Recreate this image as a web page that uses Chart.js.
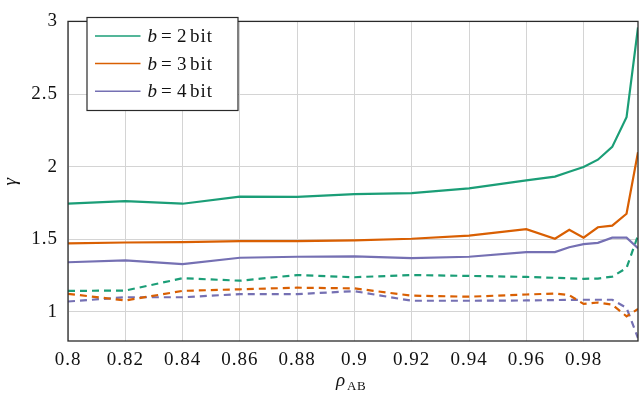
<!DOCTYPE html>
<html>
<head>
<meta charset="utf-8">
<script src="https://cdn.jsdelivr.net/npm/chart.js@4.4.1/dist/chart.umd.min.js"></script>
<style>
  html, body { margin: 0; padding: 0; background: #fff; }
  #wrap { width: 640px; height: 394px; }
</style>
</head>
<body>
<div id="wrap"><canvas id="c"></canvas></div>
<script>
// correlation values on the x axis
const rho = [0.8, 0.82, 0.84, 0.86, 0.88, 0.9, 0.92, 0.94, 0.96, 0.97, 0.975, 0.98, 0.985, 0.99, 0.995, 0.999];

// solid curves (b = 2, 3, 4 bit)
const gamma2 = [1.746, 1.763, 1.745, 1.794, 1.792, 1.811, 1.818, 1.851, 1.906, 1.932, 1.965, 1.998, 2.048, 2.136, 2.34, 2.958];
const gamma3 = [1.472, 1.478, 1.480, 1.487, 1.487, 1.493, 1.504, 1.526, 1.570, 1.504, 1.566, 1.511, 1.583, 1.594, 1.676, 2.099];
const gamma4 = [1.342, 1.355, 1.329, 1.373, 1.380, 1.382, 1.371, 1.380, 1.412, 1.412, 1.445, 1.467, 1.476, 1.511, 1.511, 1.439];

// dashed curves
const dash2 = [1.145, 1.147, 1.232, 1.215, 1.254, 1.239, 1.254, 1.248, 1.241, 1.235, 1.232, 1.228, 1.230, 1.243, 1.303, 1.526];
const dash3 = [1.125, 1.079, 1.145, 1.156, 1.167, 1.162, 1.112, 1.105, 1.120, 1.127, 1.116, 1.055, 1.065, 1.050, 0.970, 1.020];
const dash4 = [1.072, 1.101, 1.101, 1.123, 1.123, 1.143, 1.077, 1.077, 1.079, 1.082, 1.083, 1.084, 1.084, 1.084, 1.028, 0.820];

const xTicks = [0.8, 0.82, 0.84, 0.86, 0.88, 0.9, 0.92, 0.94, 0.96, 0.98];
const yTicks = [1, 1.5, 2, 2.5, 3];
const bits = ['2', '3', '4'];

const GREEN = '#1b9e77', ORANGE = '#d95f02', PURPLE = '#7570b3';
const SERIF = "'Liberation Serif', 'DejaVu Serif', serif";

const pts = ys => rho.map((x, i) => ({ x: x, y: ys[i] }));

function line(label, ys, color, dashed) {
  return {
    label: label,
    data: pts(ys),
    borderColor: color,
    backgroundColor: color,
    borderWidth: 2.2,
    borderDash: dashed ? [7, 5] : [],
    pointRadius: 0,
    tension: 0,
    fill: false,
    isDashed: dashed
  };
}

// frame around the plot, legend box and the x-axis label
const decor = {
  id: 'decor',
  beforeDraw(chart) {
    chart.ctx.letterSpacing = '1px';
  },
  afterDraw(chart) {
    const ctx = chart.ctx;
    const a = chart.chartArea;
    ctx.save();
    ctx.strokeStyle = '#2a2a2a';
    ctx.lineWidth = 1.3;
    ctx.setLineDash([]);
    ctx.strokeRect(a.left, a.top, a.right - a.left, a.bottom - a.top);

    // legend
    const bx = 87, by = 17.5, bw = 151, bh = 93;
    ctx.fillStyle = '#fff';
    ctx.fillRect(bx, by, bw, bh);
    ctx.strokeStyle = '#2a2a2a';
    ctx.lineWidth = 1.2;
    ctx.strokeRect(bx, by, bw, bh);
    const solid = chart.data.datasets.filter(d => !d.isDashed);
    ctx.fillStyle = '#111';
    ctx.textBaseline = 'alphabetic';
    ctx.textAlign = 'left';
    solid.forEach((d, i) => {
      const y = 36 + i * 27.6;
      ctx.strokeStyle = d.borderColor;
      ctx.lineWidth = 1.5;
      ctx.beginPath();
      ctx.moveTo(95, y);
      ctx.lineTo(140.5, y);
      ctx.stroke();
      ctx.letterSpacing = '0px';
      ctx.font = 'italic 19px ' + SERIF;
      ctx.fillText('b', 147.5, y + 6);
      ctx.font = '19px ' + SERIF;
      ctx.fillText('=', 161, y + 6);
      ctx.fillText(bits[i], 177, y + 6);
      ctx.letterSpacing = '1px';
      ctx.fillText('bit', 190, y + 6);
    });

    // x-axis title: rho_AB
    ctx.letterSpacing = '0px';
    ctx.font = 'italic 19px ' + SERIF;
    ctx.fillText('\u03c1', 336, 386);
    ctx.letterSpacing = '0.5px';
    ctx.font = '13px ' + SERIF;
    ctx.fillText('AB', 347, 390);
    ctx.restore();
  }
};

new Chart(document.getElementById('c'), {
  type: 'line',
  data: {
    datasets: [
      line('b = 2 bit', gamma2, GREEN, false),
      line('b = 3 bit', gamma3, ORANGE, false),
      line('b = 4 bit', gamma4, PURPLE, false),
      line('b = 2 bit (dashed)', dash2, GREEN, true),
      line('b = 3 bit (dashed)', dash3, ORANGE, true),
      line('b = 4 bit (dashed)', dash4, PURPLE, true)
    ]
  },
  options: {
    responsive: true,
    maintainAspectRatio: false,
    animation: false,
    layout: { padding: { top: 7, right: 2, left: 0, bottom: 0 } },
    plugins: {
      legend: { display: false },
      tooltip: { enabled: false }
    },
    scales: {
      x: {
        type: 'linear',
        min: 0.8,
        max: 0.999,
        afterBuildTicks: s => { s.ticks = xTicks.map(v => ({ value: v })); },
        afterFit: s => { s.height = 53; },
        ticks: {
          padding: 8,
          color: '#111',
          font: { family: SERIF, size: 19 },
          callback: v => String(Math.round(v * 100) / 100),
          maxRotation: 0,
          autoSkip: false
        },
        grid: { color: '#d4d4d4', lineWidth: 1, drawTicks: false },
        border: { display: false }
      },
      y: {
        type: 'linear',
        min: 0.8,
        max: 3,
        afterBuildTicks: s => { s.ticks = yTicks.map(v => ({ value: v })); },
        afterFit: s => { s.width = 68; },
        title: {
          display: true,
          text: '\u03b3',
          color: '#111',
          font: { family: SERIF, size: 19, style: 'italic' },
          padding: { top: 0, bottom: 0 }
        },
        ticks: {
          padding: 10,
          color: '#111',
          font: { family: SERIF, size: 19 },
          callback: v => String(v)
        },
        grid: { color: '#d4d4d4', lineWidth: 1, drawTicks: false },
        border: { display: false }
      }
    }
  },
  plugins: [decor]
});
</script>
</body>
</html>
